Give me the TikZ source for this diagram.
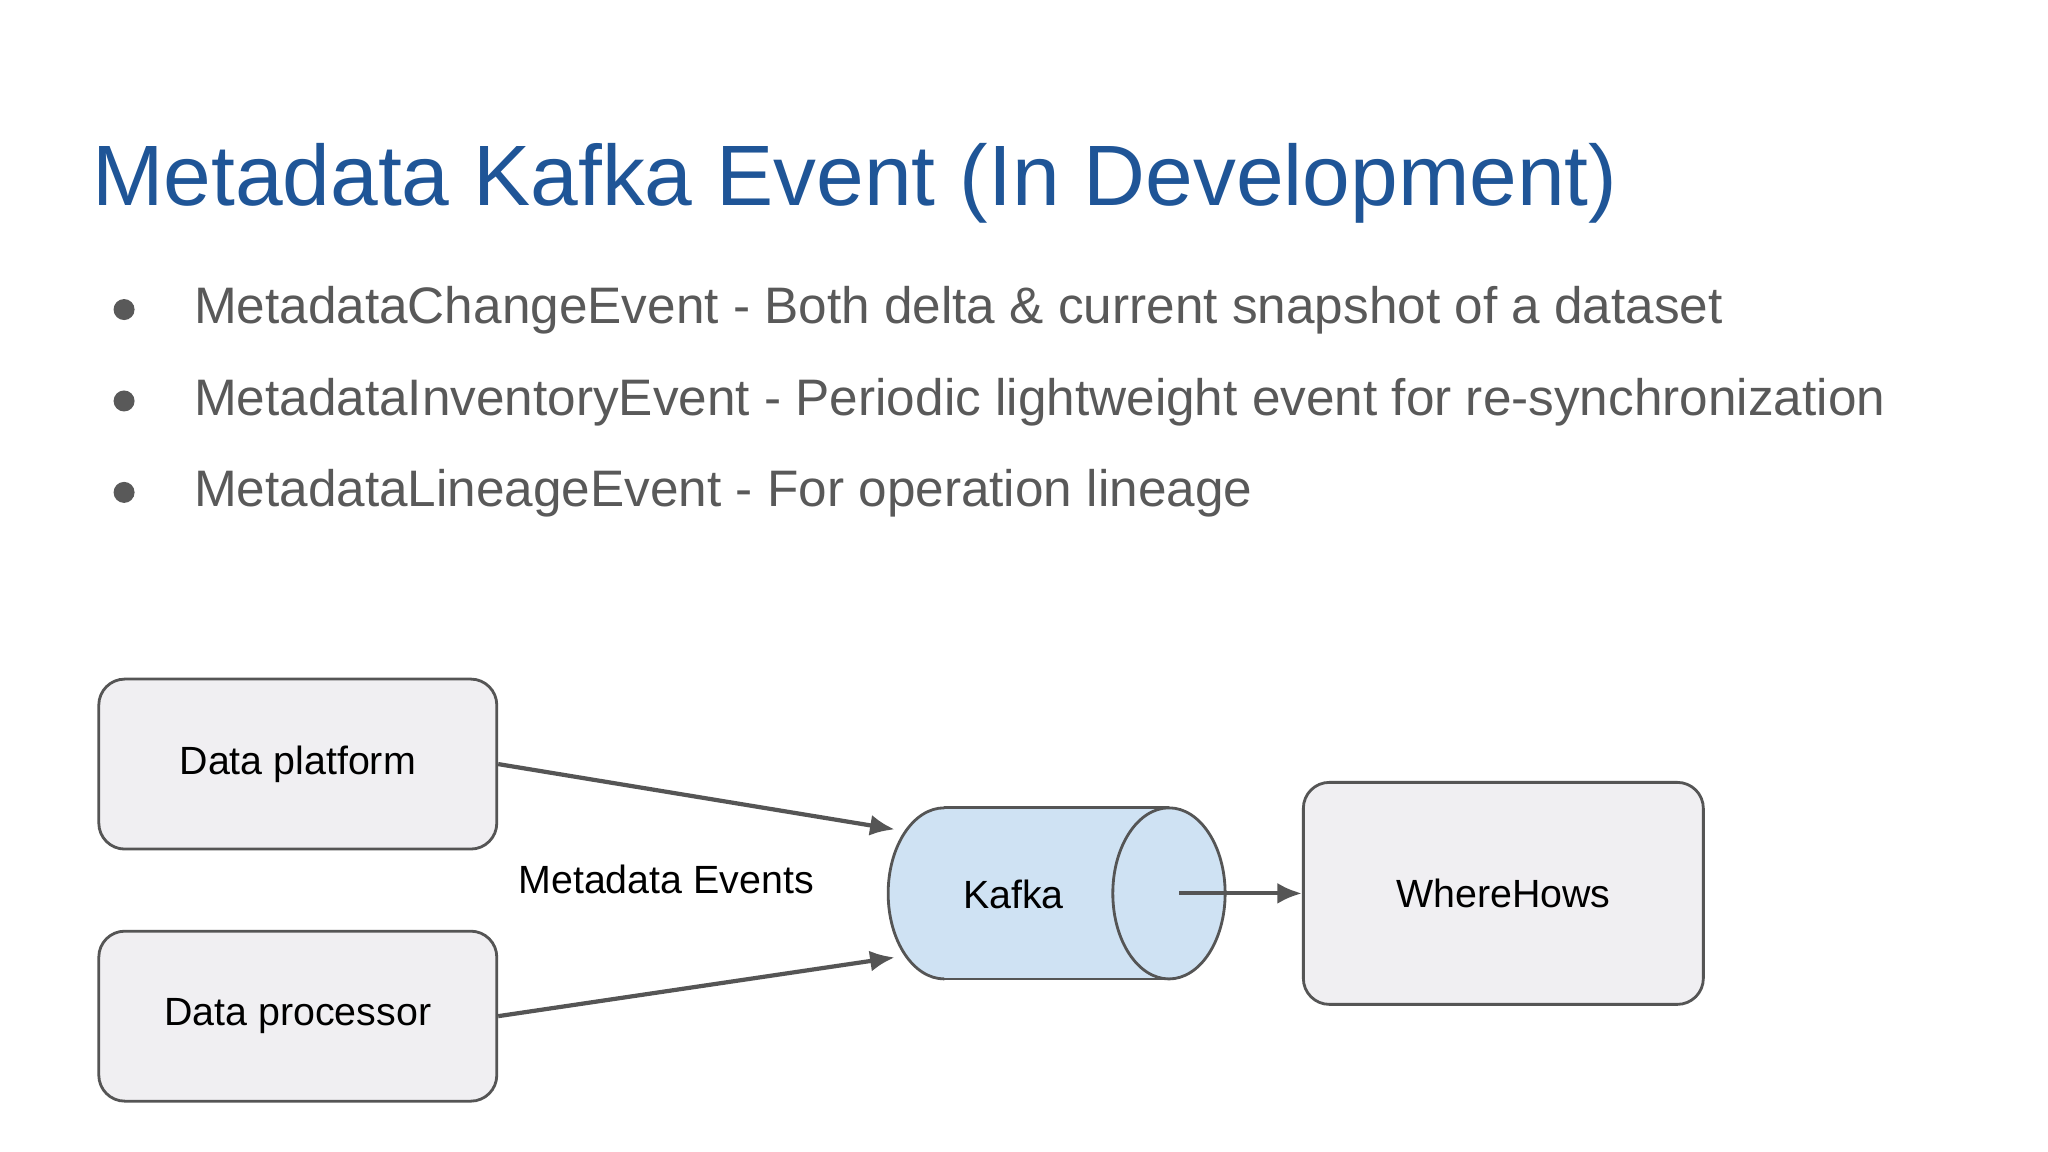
\documentclass[tikz,border=0pt]{standalone}
\usepackage{fontspec}
\setmainfont{Liberation Sans}
\usetikzlibrary{arrows.meta}
\definecolor{titleblue}{HTML}{1F5597}
\definecolor{bulletgray}{HTML}{595959}
\definecolor{boxfill}{HTML}{F0EFF2}
\definecolor{boxdraw}{HTML}{555555}
\definecolor{kafkafill}{HTML}{CFE2F3}
\begin{document}
\begin{tikzpicture}[x=0.013061cm,y=-0.013061cm,
  box/.style={draw=boxdraw,fill=boxfill,rounded corners=0.26cm,line width=0.8pt,font=\fontsize{11.2}{14}\selectfont},
  conn/.style={draw=boxdraw,line width=1.2pt,-{Latex[length=7pt,width=6pt]}},
  bul/.style={anchor=base west,text=bulletgray,font=\fontsize{14.6}{18}\selectfont,inner sep=0}]
\fill[white] (0,0) rectangle (1568,882);
\useasboundingbox (0,0) rectangle (1568,882);
\node[anchor=base west,inner sep=0,text=titleblue,font=\fontsize{24.4}{30}\selectfont] (title) at (70,157) {Metadata Kafka Event (In Development)};
\foreach \y/\t [count=\i] in {237/{MetadataChangeEvent - Both delta \& current snapshot of a dataset},
  307/{MetadataInventoryEvent - Periodic lightweight event for re-synchronization},
  377/{MetadataLineageEvent - For operation lineage}}{
  \node[circle,fill=bulletgray,inner sep=0,minimum size=0.21cm] (b\i) at (95,\y) {};
  \node[bul] (t\i) at (148,\y+11) {\t};
}
\node[box,minimum width=3.98cm,minimum height=1.70cm] (dp) at (228,585) {Data platform};
\node[box,minimum width=3.98cm,minimum height=1.70cm] (dpr) at (228,778) {Data processor};
\node[box,minimum width=4.0cm,minimum height=2.22cm] (wh) at (1151,684) {WhereHows};
% Kafka cylinder
\fill[kafkafill] (723,684) ellipse [x radius=43,y radius=65.5];
\fill[kafkafill] (723,618.5) rectangle (895,749.5);
\begin{scope}
\clip (600,600) rectangle (723,770);
\draw[boxdraw,line width=0.8pt] (723,684) ellipse [x radius=43,y radius=65.5];
\end{scope}
\draw[boxdraw,line width=0.8pt] (723,618.5) -- (895,618.5) (723,749.5) -- (895,749.5);
\draw[boxdraw,fill=kafkafill,line width=0.8pt] (895,684) ellipse [x radius=43,y radius=65.5];
\node[inner sep=0,minimum width=3.37cm,minimum height=1.71cm] (kafka) at (809,684) {};
\node[font=\fontsize{11.2}{14}\selectfont] (klabel) at (776,685) {Kafka};
\coordinate (k1) at (685,635);
\coordinate (k2) at (685,733);
\coordinate (k3) at (903,684);
\node[font=\fontsize{11.2}{14}\selectfont] (me) at (510,673) {Metadata Events};
\draw[conn] (dp.east) -- (k1);
\draw[conn] (dpr.east) -- (k2);
\draw[conn] (k3) -- (wh.west);
\end{tikzpicture}
\end{document}
